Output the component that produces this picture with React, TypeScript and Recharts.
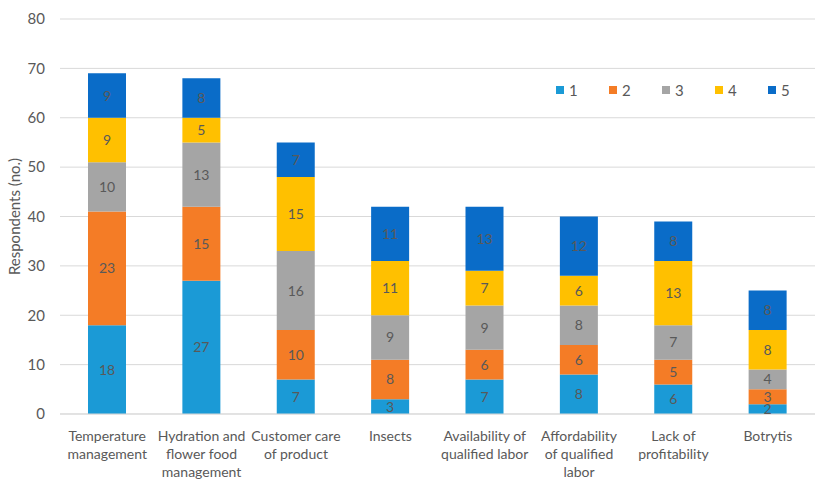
import React from 'react';
import { BarChart, Bar, XAxis, YAxis, CartesianGrid, LabelList } from 'recharts';

const categories = [
  'Temperature management',
  'Hydration and flower food management',
  'Customer care of product',
  'Insects',
  'Availability of qualified labor',
  'Affordability of qualified labor',
  'Lack of profitability',
  'Botrytis',
];

// how the category labels wrap under the axis
const categoryLines = [
  ['Temperature', 'management'],
  ['Hydration and', 'flower food', 'management'],
  ['Customer care', 'of product'],
  ['Insects'],
  ['Availability of', 'qualified labor'],
  ['Affordability', 'of qualified', 'labor'],
  ['Lack of', 'profitability'],
  ['Botrytis'],
];

const score1 = [18, 27, 7, 3, 7, 8, 6, 2];
const score2 = [23, 15, 10, 8, 6, 6, 5, 3];
const score3 = [10, 13, 16, 9, 9, 8, 7, 4];
const score4 = [9, 5, 15, 11, 7, 6, 13, 8];
const score5 = [9, 8, 7, 11, 13, 12, 8, 8];

const yTicks = [0, 10, 20, 30, 40, 50, 60, 70, 80];

const series = [
  { key: 's1', name: '1', color: '#1B9AD6' },
  { key: 's2', name: '2', color: '#F47C26' },
  { key: 's3', name: '3', color: '#A5A5A5' },
  { key: 's4', name: '4', color: '#FFC000' },
  { key: 's5', name: '5', color: '#0A6CC8' },
];

const data = categories.map((c, i) => ({
  category: c,
  s1: score1[i],
  s2: score2[i],
  s3: score3[i],
  s4: score4[i],
  s5: score5[i],
}));

const FONT = 'Lato, "Open Sans", sans-serif';
const TEXT = '#595959';

const CategoryTick = (props: any) => {
  const { x, y, payload } = props;
  const lines = categoryLines[payload.index] || [payload.value];
  return (
    <g transform={`translate(${x},${y})`}>
      {lines.map((l, i) => (
        <text key={i} x={0} y={19 + i * 18} textAnchor="middle" fill={TEXT} fontSize={14} fontFamily={FONT}>
          {l}
        </text>
      ))}
    </g>
  );
};

export default function App() {
  return (
    <div style={{ position: 'absolute', left: 0, top: 0, width: 819, height: 479, background: '#fff', fontFamily: FONT }}>
      <BarChart width={819} height={479} data={data} margin={{ top: 19, right: 4, left: 0, bottom: 35 }} barSize={38}>
        <CartesianGrid vertical={false} stroke="#D9D9D9" />
        <XAxis
          dataKey="category"
          interval={0}
          tickLine={false}
          axisLine={{ stroke: '#D9D9D9' }}
          tick={<CategoryTick />}
        />
        <YAxis
          width={60}
          domain={[0, 80]}
          ticks={yTicks}
          axisLine={false}
          tickLine={false}
          tickMargin={9}
          tick={{ fill: TEXT, fontSize: 15, fontFamily: FONT }}
          label={{ value: 'Respondents (no.)', angle: -90, position: 'center', dx: -15, fill: TEXT, fontSize: 15, fontFamily: FONT }}
        />
        {series.map((s) => (
          <Bar key={s.key} dataKey={s.key} name={s.name} stackId="a" fill={s.color} isAnimationActive={false}>
            <LabelList dataKey={s.key} position="center" fill={TEXT} fontSize={14} fontFamily={FONT} />
          </Bar>
        ))}
      </BarChart>
      <div style={{ position: 'absolute', left: 556, top: 81, display: 'flex', fontSize: 15, color: TEXT }}>
        {series.map((s) => (
          <div key={s.key} style={{ display: 'flex', alignItems: 'center', width: 53 }}>
            <span style={{ width: 8, height: 8, background: s.color, marginRight: 5, display: 'inline-block' }} />
            <span>{s.name}</span>
          </div>
        ))}
      </div>
    </div>
  );
}
